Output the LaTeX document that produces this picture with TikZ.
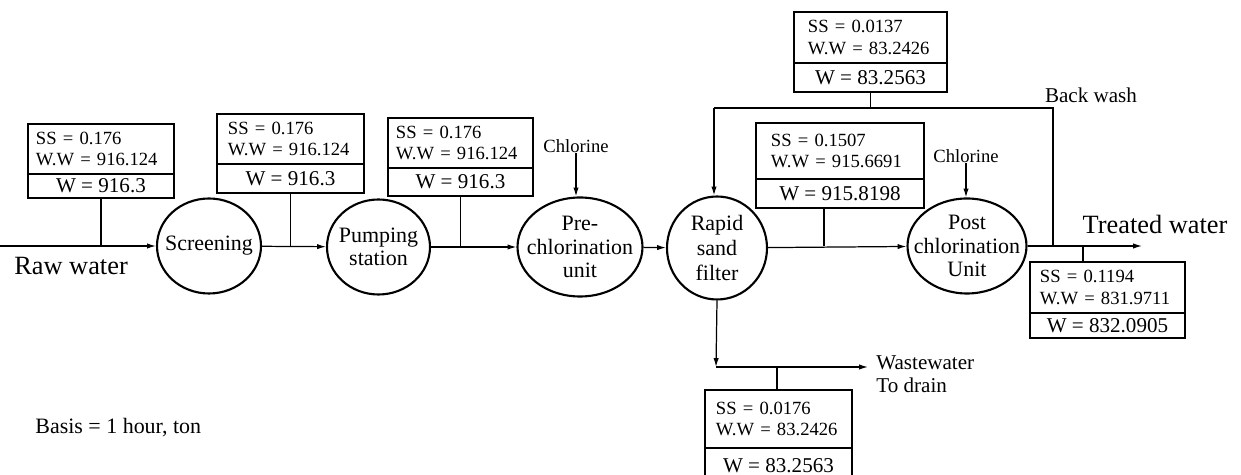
\documentclass[tikz,border=0pt]{standalone}
\usepackage{fontspec}
\setmainfont{Liberation Serif}
\usetikzlibrary{shapes.geometric,arrows.meta,calc}
\newcommand{\fBoxTop}{\fontsize{10.6}{12.5}\selectfont}
\newcommand{\fBoxBot}{\fontsize{12}{13}\selectfont}
\newcommand{\fCirc}{\fontsize{12.5}{13.3}\selectfont}
\newcommand{\fBig}{\fontsize{15}{17}\selectfont}
\newcommand{\fMid}{\fontsize{12}{13.2}\selectfont}
\newcommand{\fSmall}{\fontsize{10.6}{12}\selectfont}
\tikzset{
  unit/.style={draw, line width=1.1pt, anchor=north west, inner ysep=0pt},
  upbox/.style={unit, align=left, font=\fBoxTop},
  lowbox/.style={unit, align=center, font=\fBoxBot, inner xsep=0pt},
  proc/.style={draw, ellipse, line width=1.2pt, inner sep=0pt},
  proctext/.style={align=center, font=\fCirc, inner sep=0pt},
  flow/.style={line width=0.7pt},
  arr/.style={line width=0.7pt, -{Latex[length=5pt,width=3pt]}},
}
\begin{document}
\begin{tikzpicture}[x=0.02cm,y=-0.02cm]
\useasboundingbox (0,0) rectangle (1241,475);

% process units
\node[proc, minimum width=104*0.02cm, minimum height=95*0.02cm,
  label={[proctext]center:Screening}] (scr) at (209,246) {};
\node[proc, minimum width=103*0.02cm, minimum height=95*0.02cm,
  label={[proctext]center:Pumping\\station}] (pump) at (378.5,247) {};
\node[proc, minimum width=125*0.02cm, minimum height=99*0.02cm,
  label={[proctext]center:Pre-\\chlorination\\unit}] (pre) at (580,247) {};
\node[proc, minimum width=100*0.02cm, minimum height=103*0.02cm,
  label={[proctext, font=\fontsize{12.5}{14.5}\selectfont]center:Rapid\\sand\\filter}] (rsf) at (717,248) {};
\node[proc, minimum width=119*0.02cm, minimum height=95*0.02cm,
  label={[proctext]center:Post\\chlorination\\Unit}] (post) at (967,246) {};

% flow coordinates
\coordinate (raw) at (0,246);
\coordinate (tw) at (1142,246);
\coordinate (bwL) at (714,108);
\coordinate (bwR) at (1053,108);
\coordinate (bwJ) at (1053,246);
\coordinate (trJ) at (1083,246);
\coordinate (midJ) at (824,246);
\coordinate (ww1) at (716,367);
\coordinate (ww2) at (868,367);
\coordinate (bbJ) at (777,367);

% main flow
\draw[arr] (raw) -- (scr);
\draw[arr] (scr) -- (pump);
\draw[arr] (pump) -- (pre);
\draw[arr] (pre) -- (rsf);
\draw[arr] (rsf) -- (post);
\draw[arr] (post) -- (tw);

% labels
\node[font=\fBig, anchor=base west, inner sep=0pt] (rawl) at (14,275) {Raw water};
\node[font=\fBig, anchor=base, inner sep=0pt] (twl) at (1155,234) {Treated water};
\node[font=\fSmall, inner sep=0pt] (cl1) at (576,146) {Chlorine};
\node[font=\fSmall, inner sep=0pt] (cl2) at (966,156) {Chlorine};
\node[font=\fMid, inner sep=0pt] (bwt) at (1091,95) {Back wash};
\node[font=\fMid, anchor=north west, align=left, inner sep=0pt] (wwt) at (876,355) {Wastewater\\To drain};
\node[font=\fCirc, anchor=base west, inner sep=0pt] (basis) at (35,434) {Basis = 1 hour, ton};

\draw[arr] (cl1.south) -- (cl1.south |- pre.north);
\draw[arr] (cl2.south) -- (cl2.south |- post.north);

% boxes
\node[upbox, minimum width=2.92cm, minimum height=1.0cm, inner xsep=0.16cm, text width=2.6cm] (b1t) at (27,123) {SS = 0.176\\W.W = 916.124};
\node[lowbox, minimum width=2.92cm, minimum height=0.48cm] (b1b) at (27,173) {W = 916.3};

\node[upbox, minimum width=2.94cm, minimum height=1.0cm, inner xsep=0.22cm, text width=2.5cm] (b2t) at (216,113) {SS = 0.176\\W.W = 916.124};
\node[lowbox, minimum width=2.94cm, minimum height=0.58cm] (b2b) at (216,163) {W = 916.3};

\node[upbox, minimum width=2.9cm, minimum height=1.0cm, inner xsep=0.16cm, text width=2.58cm] (b3t) at (387,117) {SS = 0.176\\W.W = 916.124};
\node[lowbox, minimum width=2.9cm, minimum height=0.56cm] (b3b) at (387,167) {W = 916.3};

\node[upbox, minimum width=3.06cm, minimum height=1.02cm, inner xsep=0.28cm, text width=2.5cm] (b4t) at (793,11) {SS = 0.0137\\W.W = 83.2426};
\node[lowbox, minimum width=3.06cm, minimum height=0.58cm] (b4b) at (793,62) {W = 83.2563};

\node[upbox, minimum width=3.36cm, minimum height=1.12cm, inner xsep=0.3cm, text width=2.76cm] (b5t) at (755,122) {SS = 0.1507\\W.W = 915.6691};
\node[lowbox, minimum width=3.36cm, minimum height=0.58cm] (b5b) at (755,178) {W = 915.8198};

\node[upbox, minimum width=3.1cm, minimum height=1.02cm, inner xsep=0.2cm, text width=2.7cm] (b6t) at (1029,261) {SS = 0.1194\\W.W = 831.9711};
\node[lowbox, minimum width=3.1cm, minimum height=0.5cm] (b6b) at (1029,312) {W = 832.0905};

\node[upbox, minimum width=2.94cm, minimum height=1.16cm, inner xsep=0.22cm, text width=2.5cm] (b7t) at (704,389) {SS = 0.0176\\W.W = 83.2426};
\node[lowbox, minimum width=2.94cm, minimum height=0.72cm] (b7b) at (704,447) {W = 83.2563};

% box connectors
\draw[flow] (b1b.south) -- (b1b.south |- raw);
\draw[flow] (b2b.south) -- (b2b.south |- raw);
\draw[flow] (b3b.south) -- (b3b.south |- raw);
\draw[flow] (midJ |- b5b.south) -- (midJ);
\draw[flow] (trJ) -- (trJ |- b6t.north);

% back wash
\draw[flow] (b4b.south) -- (b4b.south |- bwL);
\draw[flow] (bwJ) -- (bwR) -- (bwL);
\draw[arr] (bwL) -- (bwL |- rsf.north);

% wastewater
\draw[arr] (rsf.south) -- (ww1);
\draw[arr] (ww1) -- (ww2);
\draw[flow] (bbJ) -- (bbJ |- b7t.north);
\end{tikzpicture}
\end{document}
